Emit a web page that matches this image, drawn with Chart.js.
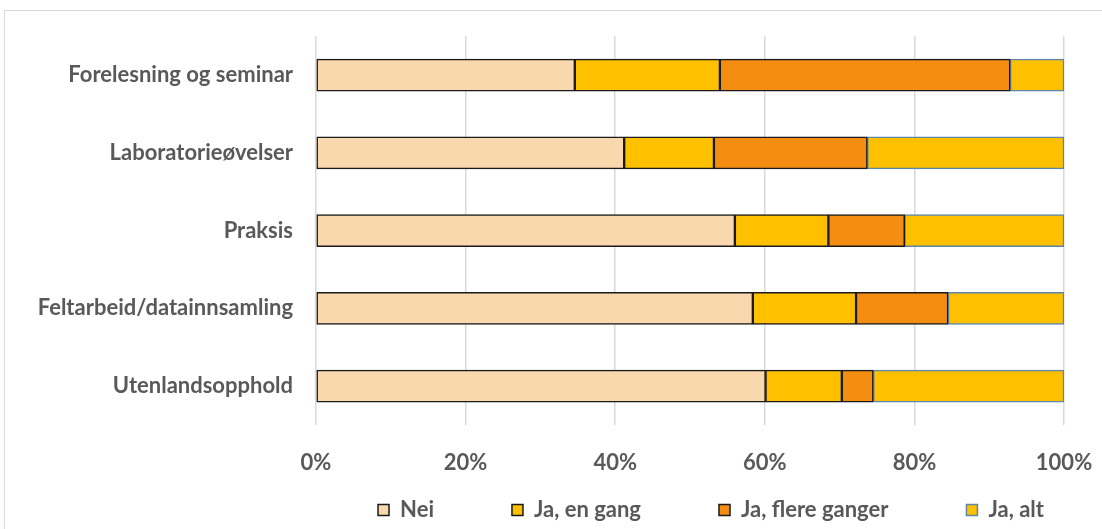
<!DOCTYPE html>
<html>
<head>
<meta charset="utf-8">
<script src="https://cdn.jsdelivr.net/npm/chart.js@4.4.0/dist/chart.umd.min.js"></script>
<style>
  html, body { margin: 0; padding: 0; background: #fff; overflow: hidden; }
  .frame { position: absolute; left: 4px; top: 10px; width: 1120px; height: 540px; border: 1px solid #d9d9d9; box-sizing: border-box; }
  .wrap { position: absolute; left: 0; top: 0; width: 1102px; height: 529px; }
</style>
</head>
<body>
<div class="frame"></div>
<div class="wrap"><canvas id="chart"></canvas></div>
<script>
// Categories and series (percent)
const categories = ['Forelesning og seminar', 'Laboratorieøvelser', 'Praksis', 'Feltarbeid/datainnsamling', 'Utenlandsopphold'];
const nei = [34.6, 41.2, 56.0, 58.4, 60.1];
const jaEnGang = [19.4, 12.0, 12.5, 13.8, 10.2];
const jaFlereGanger = [38.8, 20.5, 10.2, 12.3, 4.2];
const jaAlt = [7.2, 26.3, 21.3, 15.5, 25.5];
const xTicks = ['0%', '20%', '40%', '60%', '80%', '100%'];

const textColor = '#595959';
const font = { family: 'Lato, "Open Sans", sans-serif', size: 22, weight: 'bold' };
const legendPad = 78;

const ctx = document.getElementById('chart').getContext('2d');
new Chart(ctx, {
    type: 'bar',
    data: {
        labels: categories,
        datasets: [
            { label: 'Nei', data: nei, backgroundColor: '#FAD8AE', borderColor: '#1a1a1a' },
            { label: 'Ja, en gang', data: jaEnGang, backgroundColor: '#FFC000', borderColor: '#1a1a1a' },
            { label: 'Ja, flere ganger', data: jaFlereGanger, backgroundColor: '#F48E12', borderColor: '#1a1a1a' },
            { label: 'Ja, alt', data: jaAlt, backgroundColor: '#FFC000', borderColor: '#5B87AD' }
        ]
    },
    options: {
        indexAxis: 'y',
        responsive: true,
        maintainAspectRatio: false,
        animation: false,
        datasets: {
            bar: { barThickness: 32, borderWidth: 1.5, borderSkipped: false }
        },
        layout: { padding: { top: 34, right: 38, left: 0, bottom: 4 } },
        plugins: {
            tooltip: { enabled: false },
            legend: {
                position: 'bottom',
                labels: {
                    color: textColor,
                    font: font,
                    boxWidth: 11,
                    boxHeight: 11,
                    padding: legendPad
                }
            }
        },
        scales: {
            x: {
                stacked: true,
                min: 0,
                max: 100,
                ticks: {
                    stepSize: 20,
                    color: textColor,
                    font: font,
                    padding: 25,
                    callback: function(value, i) { return xTicks[i]; }
                },
                grid: { color: '#d9d9d9', lineWidth: 1.5, drawTicks: false },
                border: { display: false },
                afterFit: function(scale) {
                    scale.height = 60;
                    scale.paddingLeft = 0;
                    scale.paddingRight = 0;
                }
            },
            y: {
                stacked: true,
                ticks: { color: textColor, font: font, padding: 23 },
                grid: { display: false, drawTicks: false },
                border: { display: false },
                afterFit: function(scale) { scale.width = 316; }
            }
        }
    },
    plugins: [{
        id: 'legendPlacement',
        beforeInit: function(chart) {
            const fit = chart.legend.fit;
            chart.legend.fit = function() {
                fit.bind(chart.legend)();
                this.height = 40;
            };
        },
        afterLayout: function(chart) {
            // move legend under the plot area like the original
            const lg = chart.legend;
            lg.left += 179;
            lg.right += 179;
            lg.top = 510 - legendPad - 11;
            lg.bottom = chart.height;
        }
    }]
});
</script>
</body>
</html>
